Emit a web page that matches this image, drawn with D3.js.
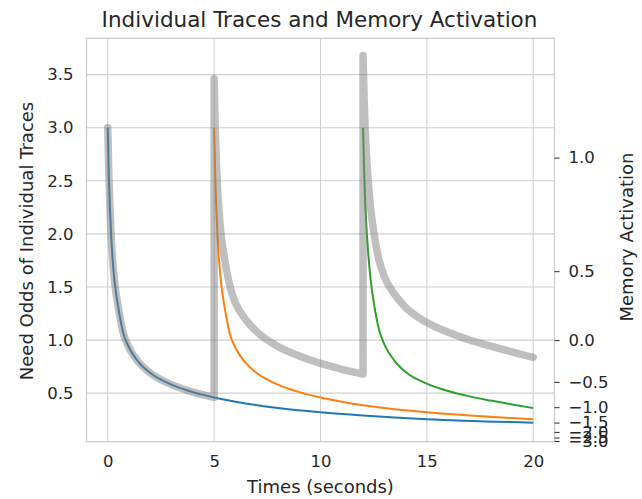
<!DOCTYPE html>
<html>
<head>
<meta charset="utf-8">
<script src="https://cdn.jsdelivr.net/npm/d3@7"></script>
<style>
  html, body { margin: 0; padding: 0; background: #ffffff; }
  svg { display: block; }
  text { font-family: "DejaVu Sans", sans-serif; fill: #262626; }
</style>
</head>
<body>
<svg id="chart" width="642" height="499"></svg>
<script>
// ---- data ----
const xTicks = [0, 5, 10, 15, 20];
const leftTicks = [0.5, 1.0, 1.5, 2.0, 2.5, 3.0, 3.5];
const rightTicks = [1.0, 0.5, 0.0, -0.5, -1.0, -1.5, -2.0, -2.5, -3.0];

// trace 1 (presented at t = 0)
const blueTimes = [0, 0.05, 0.1, 0.15, 0.25, 0.35, 0.5, 0.75, 1, 1.5, 2, 3, 4, 5, 6, 8, 10, 12, 15, 20];
const blueOdds  = [3.00, 2.55, 2.25, 2.02, 1.70, 1.50, 1.30, 1.05, 0.93, 0.78, 0.69, 0.58, 0.51, 0.46, 0.42, 0.36, 0.32, 0.29, 0.255, 0.222];

// trace 2 (presented at t = 5)
const orangeTimes = [5, 5.05, 5.1, 5.15, 5.25, 5.35, 5.5, 5.75, 6, 6.5, 7, 8, 9, 10, 11, 13, 15, 17, 20];
const orangeOdds  = [3.00, 2.55, 2.25, 2.02, 1.70, 1.50, 1.30, 1.05, 0.93, 0.78, 0.69, 0.58, 0.51, 0.46, 0.42, 0.36, 0.32, 0.29, 0.255];

// trace 3 (presented at t = 12)
const greenTimes = [12, 12.05, 12.1, 12.15, 12.25, 12.35, 12.5, 12.75, 13, 13.5, 14, 15, 16, 17, 18, 20];
const greenOdds  = [3.00, 2.60, 2.30, 2.10, 1.80, 1.58, 1.36, 1.10, 0.96, 0.80, 0.70, 0.59, 0.52, 0.47, 0.43, 0.36];

// memory activation (right axis)
const activationTimes = [0, 0.05, 0.1, 0.15, 0.25, 0.35, 0.5, 0.75, 1, 1.5, 2, 3, 4, 5,
  5, 5.05, 5.1, 5.15, 5.25, 5.35, 5.5, 5.75, 6, 6.5, 7, 8, 9, 10, 11, 12,
  12, 12.05, 12.1, 12.15, 12.25, 12.35, 12.5, 12.75, 13, 13.5, 14, 15, 16, 17, 18, 20];
const activation = [1.0986, 0.9361, 0.8109, 0.7031, 0.5306, 0.4055, 0.2624, 0.0488, -0.0726, -0.2485, -0.3711, -0.5447, -0.6733, -0.7765,
  1.2413, 1.1019, 0.9969, 0.9083, 0.7678, 0.6704, 0.5625, 0.4055, 0.3001, 0.1740, 0.0770, -0.0619, -0.1625, -0.2485, -0.3216, -0.3857,
  1.3029, 1.1878, 1.0919, 1.0225, 0.9071, 0.8131, 0.7056, 0.5608, 0.4688, 0.3542, 0.2677, 0.1527, 0.0705, 0.0010, -0.0587, -0.1779];

// ---- layout ----
const svg = d3.select("#chart");
const plot = { left: 86.5, right: 554.5, top: 38.3, bottom: 441.7 };

const x = d3.scaleLinear().domain([-1, 21]).range([plot.left, plot.right]);
const yLeft = d3.scaleLinear().domain([0.043, 3.842]).range([plot.bottom, plot.top]);
// the activation axis is a log-transformed twin of the odds axis
const yRightRaw = d3.scaleLinear().domain(yLeft.domain()).range(yLeft.range());
const yRight = a => yRightRaw(Math.exp(a));

// grid
const grid = svg.append("g").attr("stroke", "#d0d0d0").attr("stroke-width", 1.1);
grid.selectAll("line.gx").data(xTicks).join("line")
  .attr("x1", d => x(d)).attr("x2", d => x(d))
  .attr("y1", plot.top).attr("y2", plot.bottom);
grid.selectAll("line.gy").data(leftTicks).join("line")
  .attr("x1", plot.left).attr("x2", plot.right)
  .attr("y1", d => yLeft(d)).attr("y2", d => yLeft(d));

// traces
const traceLine = d3.line().x(d => x(d[0])).y(d => yLeft(d[1])).curve(d3.curveMonotoneX);
const traces = [
  { t: blueTimes, v: blueOdds, color: "#1f77b4" },
  { t: orangeTimes, v: orangeOdds, color: "#ff7f0e" },
  { t: greenTimes, v: greenOdds, color: "#2ca02c" }
];
traces.forEach(s => {
  svg.append("path")
    .datum(d3.zip(s.t, s.v))
    .attr("d", traceLine)
    .attr("fill", "none")
    .attr("stroke", s.color)
    .attr("stroke-width", 2);
});

// activation: smooth pieces joined by vertical jumps, as one continuous path
const actLine = d3.line().x(d => x(d[0])).y(d => yRight(d[1])).curve(d3.curveMonotoneX);
const actPts = d3.zip(activationTimes, activation);
const pieces = [];
let cur = [];
actPts.forEach((p, i) => {
  if (i > 0 && p[0] === actPts[i - 1][0]) { pieces.push(cur); cur = []; }
  cur.push(p);
});
pieces.push(cur);
const actD = pieces.map((pc, i) => {
  const d = actLine(pc);
  return i === 0 ? d : "L" + d.slice(1);
}).join("");
svg.append("path")
  .attr("d", actD)
  .attr("fill", "none")
  .attr("stroke", "#808080")
  .attr("stroke-opacity", 0.5)
  .attr("stroke-width", 7.5)
  .attr("stroke-linejoin", "round")
  .attr("stroke-linecap", "round");

// spines
svg.append("rect")
  .attr("x", plot.left).attr("y", plot.top)
  .attr("width", plot.right - plot.left).attr("height", plot.bottom - plot.top)
  .attr("fill", "none").attr("stroke", "#cccccc").attr("stroke-width", 1.25);

// axes
const fmt1 = d3.format(".1f");
const minusFmt = d => fmt1(d).replace("-", "\u2212");

const xAxis = svg.append("g")
  .attr("transform", `translate(0,${plot.bottom})`)
  .call(d3.axisBottom(x).tickValues(xTicks).tickSize(0).tickPadding(14).tickFormat(d3.format("d")));
const yAxisL = svg.append("g")
  .attr("transform", `translate(${plot.left},0)`)
  .call(d3.axisLeft(yLeft).tickValues(leftTicks).tickSize(0).tickPadding(13).tickFormat(fmt1));
const yAxisR = svg.append("g")
  .attr("transform", `translate(${plot.right},0)`)
  .call(d3.axisRight(yRightRaw).tickValues(rightTicks.map(Math.exp)).tickSize(5).tickPadding(9)
    .tickFormat(d => minusFmt(Math.log(d))));

[xAxis, yAxisL, yAxisR].forEach(g => {
  g.select(".domain").remove();
  g.selectAll("text").attr("font-size", 16.5).attr("font-family", "DejaVu Sans, sans-serif").attr("fill", "#262626");
  g.selectAll("line").attr("stroke", "#262626").attr("stroke-width", 1);
});

// titles and labels
svg.append("text")
  .attr("x", (plot.left + plot.right) / 2 - 1).attr("y", 27)
  .attr("text-anchor", "middle").attr("font-size", 21.5)
  .text("Individual Traces and Memory Activation");
svg.append("text")
  .attr("x", (plot.left + plot.right) / 2).attr("y", 493)
  .attr("text-anchor", "middle").attr("font-size", 18)
  .text("Times (seconds)");
svg.append("text")
  .attr("transform", `translate(33,${241}) rotate(-90)`)
  .attr("text-anchor", "middle").attr("font-size", 18)
  .text("Need Odds of Individual Traces");
svg.append("text")
  .attr("transform", `translate(633,237) rotate(-90)`)
  .attr("text-anchor", "middle").attr("font-size", 18)
  .text("Memory Activation");
</script>
</body>
</html>
